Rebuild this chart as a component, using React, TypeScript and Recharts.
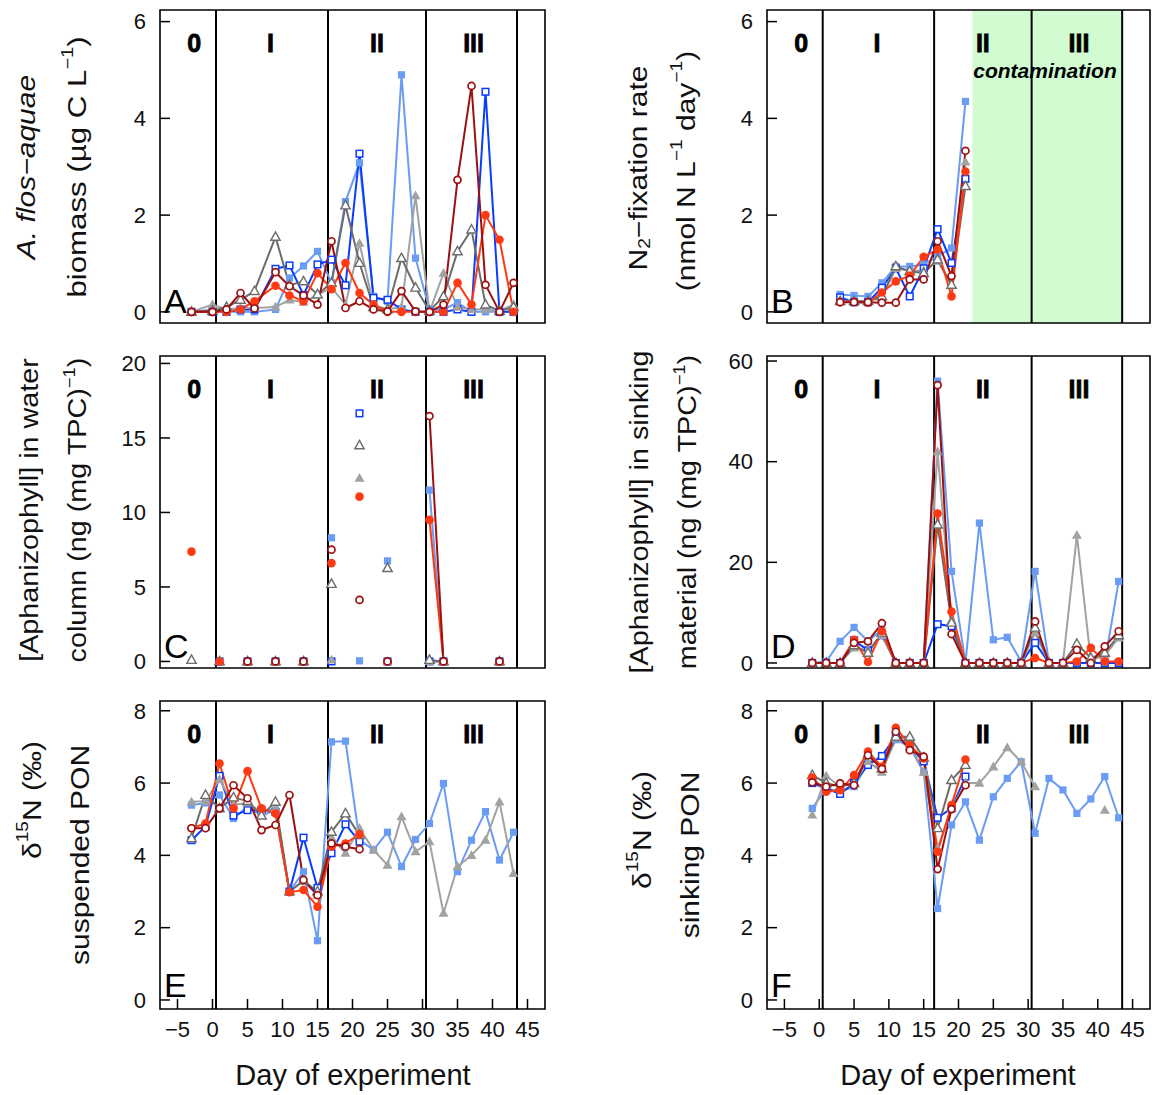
import React from 'react';
import { ComposedChart, Line, XAxis, YAxis, ReferenceLine, ReferenceArea } from 'recharts';

const FONT = '"Liberation Sans", Arial, Helvetica, sans-serif';
const n = null;

// ---------- shared axis / phase data ----------
const xTicks = [-5, 0, 5, 10, 15, 20, 25, 30, 35, 40, 45];
const xDomain: [number, number] = [-7.5, 47.5];
const phaseBounds = [0.5, 16.5, 30.5, 43.5];
const phaseNames = ['0', 'I', 'II', 'III'];
const phaseCenters = [-2.6, 8.3, 23.5, 37.3];
const contamination = [22, 43.5];

// ---------- Panel A: A. flos-aquae biomass ----------
const daysA = [-3, 0, 2, 4, 6, 9, 11, 13, 15, 17, 19, 21, 23, 25, 27, 29, 31, 33, 35, 37, 39, 41, 43];
const aLightBlue = [0, 0.05, 0, 0, 0, 0.05, 0.7, 0.95, 1.25, 0.6, 2.28, 3.08, 0.32, 0.22, 4.9, 1.11, 0.05, 0.05, 0.19, 0, 0, 0, 0];
const aBlue = [0, 0, 0, 0.05, 0.05, 0.89, 0.96, 0.35, 0.98, 1.08, 0.55, 3.27, 0.29, 0.25, 0.05, 0, 0, 0, 0.05, 0, 4.55, 0, 0];
const aGrayF = [0, 0.15, 0.05, 0.08, 0.08, 0.1, 0.25, 0.2, 0.35, 0.5, 0.15, 1.42, 0.15, 0.05, 0.1, 2.4, 0, 0.8, 0.1, 0.05, 0.05, 0.02, 0.15];
const aGrayO = [0, 0.02, 0.1, 0.25, 0.43, 1.55, 0.55, 0.63, 0.36, 0.6, 2.2, 1.01, 0.1, 0.05, 1.11, 0.5, 0.02, 0.32, 1.25, 1.7, 0.15, 0.02, 0.1];
const aRed = [0, 0, 0, 0.05, 0.22, 0.54, 0.34, 0.22, 0.8, 0.47, 1.01, 0.39, 0.15, 0, 0, 0, 0, 0, 0.6, 0.15, 2.0, 1.49, 0];
const aDarkRed = [0, 0, 0.05, 0.39, 0.07, 0.82, 0.53, 0.34, 0.15, 1.46, 0.08, 0.22, 0.05, 0.01, 0.43, 0.01, 0, 0.15, 2.73, 4.67, 0.56, 0, 0.6];

// ---------- Panel B: N2-fixation rate ----------
const daysB = [3, 5, 7, 9, 11, 13, 15, 17, 19, 21];
const bLightBlue = [0.36, 0.34, 0.32, 0.6, 0.94, 0.94, 0.98, 1.15, 1.32, 4.35];
const bBlue = [0.3, 0.2, 0.2, 0.5, 0.9, 0.32, 0.9, 1.71, 1.01, 2.75];
const bGrayF = [0.22, 0.22, 0.22, 0.3, 0.9, 0.85, 0.85, 1.05, 0.56, 3.1];
const bGrayO = [0.22, 0.22, 0.22, 0.32, 0.94, 0.84, 0.8, 1.08, 0.56, 2.6];
const bRed = [0.2, 0.21, 0.19, 0.4, 0.63, 0.75, 1.14, 1.29, 0.32, 2.9];
const bDarkRed = [0.2, 0.2, 0.2, 0.19, 0.19, 0.67, 0.67, 1.46, 0.74, 3.33];

// ---------- Panel C: aphanizophyll in water column ----------
const daysC = [-3, -1, 1, 3, 5, 7, 9, 11, 13, 15, 17, 19, 21, 23, 25, 27, 29, 31, 33, 35, 37, 39, 41];
const cLightBlue = [n, n, 0, n, 0, n, 0, n, 0, n, 8.3, n, 0.04, n, 6.75, n, n, 11.5, 0, n, n, n, 0];
const cBlue = [n, n, 0, n, 0, n, 0, n, 0, n, 0, n, 16.65, n, 0, n, n, 0, 0, n, n, n, 0];
const cGrayF = [n, n, 0, n, 0, n, 0, n, 0, n, 0.1, n, 12.3, n, 0, n, n, 0, 0, n, n, n, 0];
const cGrayO = [0.1, n, 0, n, 0, n, 0, n, 0, n, 5.2, n, 14.5, n, 6.26, n, n, 0.1, 0, n, n, n, 0];
const cRed = [7.37, n, 0, n, 0, n, 0, n, 0, n, 6.6, n, 11.06, n, 0, n, n, 9.5, 0, n, n, n, 0];
const cDarkRed = [n, n, n, n, 0, n, 0, n, 0, n, 7.5, n, 4.13, n, 0, n, n, 16.47, 0, n, n, n, 0];

// ---------- Panel D: aphanizophyll in sinking material ----------
const daysD = [-1, 1, 3, 5, 7, 9, 11, 13, 15, 17, 19, 21, 23, 25, 27, 29, 31, 33, 35, 37, 39, 41, 43];
const dLightBlue = [0, 0.3, 4.3, 7.07, 4.3, 6.6, 0, 0, 0, 56, 18.2, 0, 27.8, 4.6, 5.1, 0.3, 18.2, 0, 0, 0, 0, 0, 16.2];
const dBlue = [0, 0, 0, 4.5, 2.5, 5.5, 0, 0, 0, 7.7, 7.3, 0, 0, 0, 0, 0, 4.0, 0, 0, 0, 0, 0, 0];
const dGrayF = [0, 0, 0, 3.0, 2.5, 5.5, 0, 0, 0, 42, 8.5, 0, 0, 0, 0, 0, 6.0, 0, 0, 25.4, 0.5, 1.5, 5.0];
const dGrayO = [0, 0, 0, 3.5, 2.0, 6.0, 0, 0, 0, 27.5, 8.0, 0, 0, 0, 0, 0, 7.0, 0, 0, 3.8, 1.0, 2.0, 5.5];
const dRed = [0, 0, 0, 4.6, 0.2, 6.3, 0, 0, 0, 29.7, 10.2, 0, 0, 0, 0, 0, 1.0, 0, 0, 0.3, 3.0, 0.3, 0.3];
const dDarkRed = [0, 0, 0, 4.0, 4.3, 7.9, 0, 0, 0, 55.2, 5.75, 0, 0, 0, 0, 0, 8.26, 0, 0, 2.6, 0, 3.3, 6.3];

// ---------- Panel E: d15N suspended PON ----------
const daysE = [-3, -1, 1, 3, 5, 7, 9, 11, 13, 15, 17, 19, 21, 23, 25, 27, 29, 31, 33, 35, 37, 39, 41, 43];
const eLightBlue = [5.39, 5.45, 5.67, 5.02, 5.35, 5.1, 5.25, 3.0, 3.55, 1.64, 7.14, 7.16, 4.42, 4.15, 4.64, 3.69, 4.44, 4.88, 5.99, 3.55, 4.42, 5.21, 3.87, 4.64];
const eBlue = [4.42, 4.8, 6.2, 5.1, 5.25, 5.25, 5.2, 3.0, 4.49, 3.1, 4.06, 4.86, 4.38, n, n, n, n, n, n, n, n, n, n, n];
const eGrayF = [5.48, 5.5, 6.1, 5.4, 5.45, 5.2, 5.3, 3.0, 3.3, 2.9, 4.5, 4.06, 4.75, 4.15, 3.73, 5.07, 4.1, 4.38, 2.4, 3.69, 4.0, 4.42, 5.48, 3.5];
const eGrayO = [4.47, 5.67, 5.3, 5.6, 5.5, 5.1, 5.48, 3.0, 3.3, 3.0, 4.65, 5.16, 4.56, n, n, n, n, n, n, n, n, n, n, n];
const eRed = [4.75, 4.88, 6.54, 5.3, 6.33, 5.3, 5.16, 2.98, 3.04, 2.58, 4.24, 4.33, 4.58, n, n, n, n, n, n, n, n, n, n, n];
const eDarkRed = [4.75, 4.75, 5.3, 5.94, 5.58, 4.7, 4.84, 5.67, 3.32, 2.9, 4.33, 4.24, 4.17, n, n, n, n, n, n, n, n, n, n, n];

// ---------- Panel F: d15N sinking PON ----------
const daysF = [-1, 1, 3, 5, 7, 9, 11, 13, 15, 17, 19, 21, 23, 25, 27, 29, 31, 33, 35, 37, 39, 41, 43];
const fLightBlue = [5.3, 5.85, 5.76, 5.9, 6.54, 6.4, 7.2, 7.0, 6.3, 2.53, 4.84, 5.48, 4.42, 5.62, 6.13, 6.59, 4.61, 6.13, 5.81, 5.16, 5.56, 6.18, 5.04];
const fBlue = [6.0, 5.85, 5.7, 6.0, 6.5, 6.75, 7.3, 7.0, 6.6, 5.04, 5.3, 6.18, n, n, n, n, n, n, n, n, n, n, n];
const fGrayF = [5.12, 6.2, 5.9, 6.0, 6.6, 6.3, 7.25, 7.1, 6.3, 4.2, 5.3, 6.0, 6.0, 6.45, 6.98, 6.59, 5.9, n, n, n, n, 5.25, n];
const fGrayO = [6.22, 6.0, 5.9, 6.0, 6.8, 6.4, 7.28, 7.28, 6.7, 4.75, 6.08, 6.5, n, n, n, n, n, n, n, n, n, n, n];
const fRed = [6.15, 5.76, 5.8, 6.22, 6.87, 6.45, 7.53, 7.05, 6.68, 4.1, 5.39, 6.65, n, n, n, n, n, n, n, n, n, n, n];
const fDarkRed = [6.02, 5.9, 5.99, 5.94, 6.77, 6.39, 7.42, 6.91, 6.73, 3.62, 5.28, 5.94, n, n, n, n, n, n, n, n, n, n, n];

// ---------- series styles ----------
const SERIES = [
  { key: 'lb', color: '#6a9bf5', marker: 'sqF' },
  { key: 'bl', color: '#0a3cff', marker: 'sqO' },
  { key: 'gf', color: '#a2a2a2', marker: 'trF' },
  { key: 'go', color: '#6c6c6c', marker: 'trO' },
  { key: 'rd', color: '#ff3a12', marker: 'ciF' },
  { key: 'dr', color: '#9c1010', marker: 'ciO' },
];

function buildRows(days: number[], s: (number | null)[][]) {
  return days.map((d, i) => ({
    day: d,
    lb: s[0][i], bl: s[1][i], gf: s[2][i], go: s[3][i], rd: s[4][i], dr: s[5][i],
  }));
}

const rowsA = buildRows(daysA, [aLightBlue, aBlue, aGrayF, aGrayO, aRed, aDarkRed]);
const rowsB = buildRows(daysB, [bLightBlue, bBlue, bGrayF, bGrayO, bRed, bDarkRed]);
const rowsC = buildRows(daysC, [cLightBlue, cBlue, cGrayF, cGrayO, cRed, cDarkRed]);
const rowsD = buildRows(daysD, [dLightBlue, dBlue, dGrayF, dGrayO, dRed, dDarkRed]);
const rowsE = buildRows(daysE, [eLightBlue, eBlue, eGrayF, eGrayO, eRed, eDarkRed]);
const rowsF = buildRows(daysF, [fLightBlue, fBlue, fGrayF, fGrayO, fRed, fDarkRed]);

// ---------- layout ----------
const COLS = [
  { left: 0, width: 560, yw: 160, mr: 15 },
  { left: 607, width: 548, yw: 160, mr: 5 },
];
const ROWS = [
  { top: 0, height: 345, mt: 10, xh: 22 },
  { top: 345, height: 345, mt: 11, xh: 22 },
  { top: 690, height: 405, mt: 11, xh: 86 },
];

function plotBox(c: number, r: number) {
  const col = COLS[c];
  const row = ROWS[r];
  const x0 = col.left + col.yw;
  const x1 = col.left + col.width - col.mr;
  const y0 = row.top + row.mt;
  const y1 = row.top + row.height - row.xh;
  return { x0, x1, y0, y1 };
}
function dayToPx(c: number, d: number) {
  const b = plotBox(c, 0);
  return b.x0 + ((d - xDomain[0]) / (xDomain[1] - xDomain[0])) * (b.x1 - b.x0);
}

function Marker(props: any) {
  const { cx, cy, kind, color } = props;
  if (cx == null || cy == null || Number.isNaN(cx) || Number.isNaN(cy)) return null;
  switch (kind) {
    case 'sqF':
      return <rect x={cx - 3.6} y={cy - 3.6} width={7.2} height={7.2} fill={color} />;
    case 'sqO':
      return <rect x={cx - 3.3} y={cy - 3.3} width={6.6} height={6.6} fill="#fff" stroke={color} strokeWidth={1.5} />;
    case 'trF':
      return <polygon points={`${cx},${cy - 5.2} ${cx - 5},${cy + 3.6} ${cx + 5},${cy + 3.6}`} fill={color} />;
    case 'trO':
      return <polygon points={`${cx},${cy - 5} ${cx - 4.7},${cy + 3.4} ${cx + 4.7},${cy + 3.4}`} fill="#fff" stroke={color} strokeWidth={1.4} />;
    case 'ciF':
      return <circle cx={cx} cy={cy} r={4.3} fill={color} />;
    default:
      return <circle cx={cx} cy={cy} r={3.5} fill="#fff" stroke={color} strokeWidth={1.7} />;
  }
}

const fmtX = (v: number) => (v < 0 ? `\u2212${-v}` : `${v}`);

type PanelProps = {
  rows: any[];
  c: number;
  r: number;
  yDomain: [number, number];
  yTicks: number[];
  xLabels: boolean;
  green?: boolean;
};

function Panel({ rows, c, r, yDomain, yTicks, xLabels, green }: PanelProps) {
  const col = COLS[c];
  const row = ROWS[r];
  const tickStyle = { fontSize: 22, fill: '#111', fontFamily: FONT };
  return (
    <div style={{ position: 'absolute', left: col.left, top: row.top, width: col.width, height: row.height }}>
      <ComposedChart
        width={col.width}
        height={row.height}
        data={rows}
        margin={{ top: row.mt, right: col.mr, bottom: 0, left: 0 }}
      >
        <XAxis
          type="number"
          dataKey="day"
          domain={xDomain}
          ticks={xTicks}
          interval={0}
          allowDataOverflow
          height={row.xh}
          axisLine={false}
          tickSize={-10}
          tickMargin={22}
          tickLine={{ stroke: '#000', strokeWidth: 1.5 }}
          tick={xLabels ? tickStyle : false}
          tickFormatter={fmtX}
        />
        <YAxis
          type="number"
          domain={yDomain}
          ticks={yTicks}
          interval={0}
          allowDataOverflow
          width={col.yw}
          axisLine={false}
          tickSize={-10}
          tickMargin={24}
          tickLine={{ stroke: '#000', strokeWidth: 1.5 }}
          tick={tickStyle}
        />
        {green ? (
          <ReferenceArea
            x1={contamination[0]}
            x2={contamination[1]}
            y1={yDomain[0]}
            y2={yDomain[1]}
            fill="#d2fbd2"
            fillOpacity={1}
            stroke="none"
            ifOverflow="visible"
          />
        ) : null}
        {phaseBounds.map((b) => (
          <ReferenceLine key={b} x={b} stroke="#000" strokeWidth={2} ifOverflow="visible" />
        ))}
        {SERIES.map((s) => (
          <Line
            key={s.key}
            type="linear"
            dataKey={s.key}
            stroke={s.color}
            strokeWidth={2}
            connectNulls={false}
            isAnimationActive={false}
            activeDot={false}
            dot={(p: any) => (
              <Marker key={`${s.key}-${p.index}`} cx={p.cx} cy={p.cy} kind={s.marker} color={s.color} />
            )}
          />
        ))}
        <ReferenceArea
          x1={xDomain[0]}
          x2={xDomain[1]}
          y1={yDomain[0]}
          y2={yDomain[1]}
          fill="none"
          stroke="#000"
          strokeWidth={1.6}
          ifOverflow="visible"
        />
      </ComposedChart>
    </div>
  );
}

type Seg = { t: string; sup?: boolean; sub?: boolean; it?: boolean };

function VLabel({ x, y, size = 25, stretch = 1.2, segs }: { x: number; y: number; size?: number; stretch?: number; segs: Seg[] }) {
  let shift = 0;
  return (
    <text
      transform={`translate(${x},${y}) rotate(-90) scale(${stretch},1)`}
      textAnchor="middle"
      dominantBaseline="central"
      fontSize={size}
      fontFamily={FONT}
      fill="#111"
    >
      {segs.map((s, i) => {
        const target = s.sup ? -9 : s.sub ? 7 : 0;
        const dy = target - shift;
        shift = target;
        return (
          <tspan
            key={i}
            dy={dy}
            fontSize={s.sup || s.sub ? 16 : size}
            fontStyle={s.it ? 'italic' : 'normal'}
          >
            {s.t}
          </tspan>
        );
      })}
    </text>
  );
}

function Overlay() {
  const letters = [
    ['A', 0, 0], ['B', 1, 0], ['C', 0, 1], ['D', 1, 1], ['E', 0, 2], ['F', 1, 2],
  ] as [string, number, number][];
  const M = '\u2212';
  return (
    <svg
      width={1155}
      height={1095}
      style={{ position: 'absolute', left: 0, top: 0, pointerEvents: 'none' }}
    >
      {[0, 1].map((c) =>
        [0, 1, 2].map((r) =>
          phaseNames.map((p, i) => (
            <text
              key={`${c}-${r}-${p}`}
              x={dayToPx(c, phaseCenters[i])}
              y={plotBox(c, r).y0 + 42}
              textAnchor="middle"
              fontSize={25}
              fontWeight="bold"
              fontFamily={FONT}
              fill="#000"
              stroke="#000"
              strokeWidth={0.8}
            >
              {p}
            </text>
          ))
        )
      )}
      {letters.map(([l, c, r]) => (
        <text
          key={l}
          x={plotBox(c, r).x0 + 4}
          y={plotBox(c, r).y1 - (r === 2 ? 12 : 10)}
          fontSize={34}
          fontFamily={FONT}
          fill="#000"
        >
          {l}
        </text>
      ))}
      <text
        x={1045}
        y={78}
        textAnchor="middle"
        fontSize={21}
        fontWeight="bold"
        fontStyle="italic"
        fontFamily={FONT}
        fill="#000"
      >
        contamination
      </text>

      <VLabel x={26} y={167} stretch={1.2} segs={[{ t: `A. flos${M}aquae`, it: true }]} />
      <VLabel x={77} y={167} stretch={1.25} segs={[{ t: 'biomass (µg C L' }, { t: `${M}1`, sup: true }, { t: ')' }]} />

      <VLabel x={638} y={168} stretch={1.2} segs={[{ t: 'N' }, { t: '2', sub: true }, { t: `${M}fixation rate` }]} />
      <VLabel
        x={686}
        y={171}
        stretch={1.2}
        segs={[{ t: '(nmol N L' }, { t: `${M}1`, sup: true }, { t: ' day' }, { t: `${M}1`, sup: true }, { t: ')' }]}
      />

      <VLabel x={30} y={510} stretch={1.15} segs={[{ t: '[Aphanizophyll] in water' }]} />
      <VLabel x={78} y={510} stretch={1.15} segs={[{ t: 'column (ng (mg TPC)' }, { t: `${M}1`, sup: true }, { t: ')' }]} />

      <VLabel x={640} y={512} stretch={1.15} segs={[{ t: '[Aphanizophyll] in sinking' }]} />
      <VLabel x={688} y={512} stretch={1.15} segs={[{ t: 'material (ng (mg TPC)' }, { t: `${M}1`, sup: true }, { t: ')' }]} />

      <VLabel x={32} y={800} stretch={1.2} segs={[{ t: 'δ' }, { t: '15', sup: true }, { t: 'N (‰)' }]} />
      <VLabel x={80} y={855} stretch={1.2} segs={[{ t: 'suspended PON' }]} />

      <VLabel x={642} y={830} stretch={1.2} segs={[{ t: 'δ' }, { t: '15', sup: true }, { t: 'N (‰)' }]} />
      <VLabel x={690} y={855} stretch={1.2} segs={[{ t: 'sinking PON' }]} />

      <text x={353} y={1085} textAnchor="middle" fontSize={29} fontFamily={FONT} fill="#111">
        Day of experiment
      </text>
      <text x={958} y={1085} textAnchor="middle" fontSize={29} fontFamily={FONT} fill="#111">
        Day of experiment
      </text>
    </svg>
  );
}

export default function App() {
  return (
    <div style={{ position: 'absolute', left: 0, top: 0, width: 1155, height: 1095, background: '#fff', overflow: 'hidden' }}>
      <Panel rows={rowsA} c={0} r={0} yDomain={[-0.23, 6.24]} yTicks={[0, 2, 4, 6]} xLabels={false} />
      <Panel rows={rowsB} c={1} r={0} yDomain={[-0.23, 6.24]} yTicks={[0, 2, 4, 6]} xLabels={false} green />
      <Panel rows={rowsC} c={0} r={1} yDomain={[-0.44, 20.5]} yTicks={[0, 5, 10, 15, 20]} xLabels={false} />
      <Panel rows={rowsD} c={1} r={1} yDomain={[-1, 61]} yTicks={[0, 20, 40, 60]} xLabels={false} />
      <Panel rows={rowsE} c={0} r={2} yDomain={[-0.25, 8.27]} yTicks={[0, 2, 4, 6, 8]} xLabels />
      <Panel rows={rowsF} c={1} r={2} yDomain={[-0.25, 8.27]} yTicks={[0, 2, 4, 6, 8]} xLabels />
      <Overlay />
    </div>
  );
}
